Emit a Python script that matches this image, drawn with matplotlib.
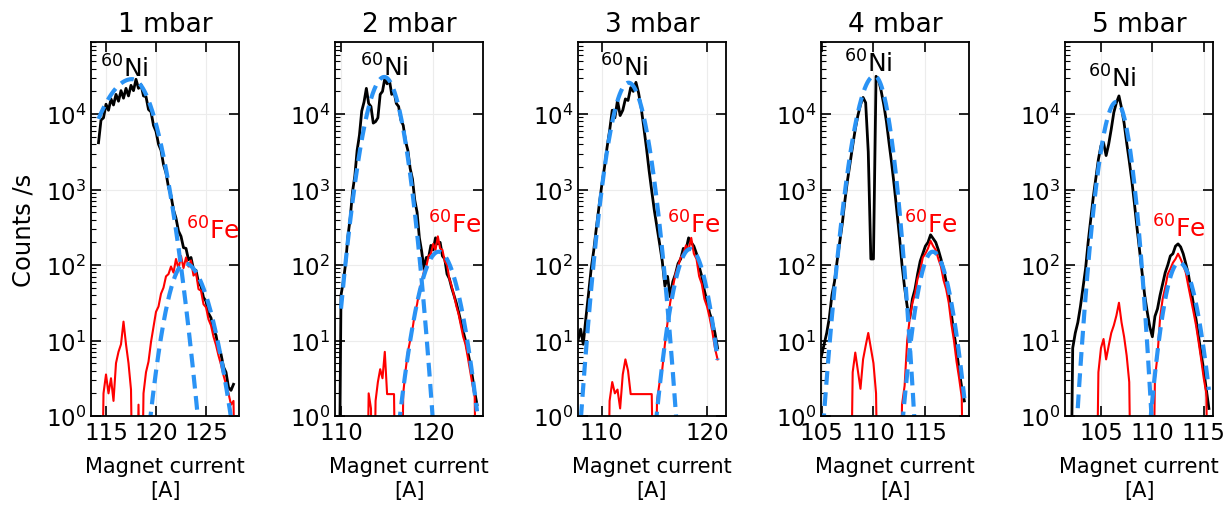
import numpy as np
import matplotlib.pyplot as plt

titles = ["1 mbar", "2 mbar", "3 mbar", "4 mbar", "5 mbar"]
bin_width = 0.25

# log10 of the count rate per 0.25 A bin, -2 marks an empty bin
total_start = [114.25, 109.75, 107.75, 105.0, 102.0]
total_1 = [3.62, 3.92, 3.95, 4.13, 4.05, 4.2, 4.12, 4.26, 4.17, 4.31, 4.21, 4.34, 4.24, 4.38,
           4.31, 4.46, 4.34, 4.39, 4.24, 4.23, 4.06, 4.03, 3.85, 3.77, 3.6, 3.52, 3.33, 3.22,
           3.03, 2.92, 2.73, 2.62, 2.45, 2.38, 2.23, 2.22, 2.07, 2.1, 1.94, 1.93, 1.77, 1.72,
           1.57, 1.52, 1.36, 1.3, 1.14, 1.07, 0.89, 0.82, 0.65, 0.58, 0.38, 0.34, 0.42]
total_2 = [-2, 1.6, 1.78, 2.02, 2.38, 2.62, 2.97, 3.18, 3.52, 3.72, 4.04, 4.16, 4.34, 4.14, 4.1,
           3.88, 3.9, 3.95, 4.26, 4.3, 4.47, 4.4, 4.45, 4.26, 4.3, 4.14, 4.1, 3.92, 3.85, 3.64,
           3.52, 3.28, 3.14, 2.86, 2.7, 2.36, 2.18, 1.95, 2.1, 2.1, 2.26, 2.2, 2.36, 2.28, 2.3,
           2.12, 2.08, 1.88, 1.82, 1.7, 1.6, 1.5, 1.38, 1.25, 1.12, 1.0, 0.85, 0.7, 0.52, 0.32, 0.15]
total_3 = [1.0, 1.15, 0.95, 1.3, 1.62, 1.95, 2.2, 2.5, 2.78, 3.05, 3.28, 3.55, 3.78, 4.05, 3.95,
           4.18, 3.98, 4.05, 4.2, 4.18, 4.35, 4.3, 4.42, 4.28, 4.08, 3.82, 3.55, 3.25, 2.98, 2.72,
           2.5, 2.28, 2.05, 1.72, 1.85, 1.58, 1.78, 1.88, 2.02, 2.08, 2.22, 2.2, 2.36, 2.3, 2.25,
           2.15, 1.98, 1.85, 1.66, 1.52, 1.36, 1.26, 1.1, 0.9]
total_4 = [0.8, 0.95, 1.1, 1.3, 1.6, 1.78, 2.05, 2.3, 2.55, 2.85, 3.12, 3.35, 3.58, 3.8, 3.98,
           4.12, 4.22, 4.15, 3.5, 2.08, 2.08, 4.5, 4.45, 4.3, 4.12, 3.9, 3.62, 3.35, 3.05, 2.72,
           2.38, 2.0, 1.7, 1.45, 1.3, 1.55, 1.68, 1.88, 2.05, 2.15, 2.25, 2.3, 2.4, 2.35, 2.3,
           2.2, 2.08, 1.95, 1.78, 1.6, 1.35, 1.1, 0.88, 0.6, 0.38, 0.2]
total_5 = [-2, 0.9, 1.1, 1.24, 1.45, 1.7, 1.95, 2.3, 2.6, 2.9, 3.15, 3.4, 3.58, 3.62, 3.45, 3.6,
           3.8, 4.02, 4.15, 4.24, 4.08, 3.88, 3.62, 3.38, 3.12, 2.82, 2.5, 2.2, 1.9, 1.6, 1.38,
           1.18, 1.05, 1.32, 1.42, 1.6, 1.75, 1.9, 2.0, 2.12, 2.15, 2.25, 2.28, 2.24, 2.15, 2.02,
           1.88, 1.68, 1.48, 1.28, 1.05, 0.82, 0.6, 0.35, 0.1]

fe_start = [114.5, 112.75, 110.5, 107.75, 104.5]
fe_1 = [-2, 0.3, 0.55, 0.3, 0.5, 0.2, 0.7, 0.85, 0.95, 1.25, 0.95, 0.7, 0.35, -2, -2, 0.15, -2,
        0.3, 0.58, 0.72, 0.98, 1.18, 1.38, 1.45, 1.62, 1.7, 1.85, 1.88, 1.98, 1.9, 2.08, 1.95,
        2.12, 1.96, 2.1, 1.98, 2.06, 1.86, 1.9, 1.68, 1.66, 1.48, 1.44, 1.28, 1.2, 1.05, 0.94,
        0.8, 0.68, 0.54, 0.42, 0.3, 0.15, 0.2, -2]
fe_2 = [-2, 0.3, 0.1, -2, 0.2, 0.45, 0.62, 0.5, 0.85, 0.29, 0.29, 0.29, 0.29, -2, -2, -2, 0.3,
        0.6, 0.85, 1.0, 1.15, 1.35, 1.48, 1.66, 1.78, 1.92, 1.98, 2.12, 2.15, 2.28, 2.2, 2.38,
        2.22, 2.2, 2.05, 2.0, 1.82, 1.72, 1.6, 1.46, 1.35, 1.2, 1.05, 0.95, 0.78, 0.6, 0.42,
        0.25, -2]
fe_3 = [-2, 0.2, 0.45, 0.3, 0.35, 0.1, 0.55, 0.75, 0.6, 0.29, 0.29, 0.29, 0.29, 0.29, 0.29,
        0.29, 0.29, 0.29, -2, 0.2, 0.45, 0.62, 0.95, 1.24, 1.5, 1.7, 1.88, 1.98, 2.1, 2.15, 2.26,
        2.2, 2.36, 2.15, 2.08, 1.85, 1.75, 1.55, 1.45, 1.3, 1.12, 0.9, 0.75]
fe_4 = [-2, 0.58, 0.84, 0.6, 0.36, 0.75, 0.93, 1.1, 0.9, 0.7, 0.3, -2, -2, -2, -2, -2, -2, -2,
        -2, -2, 0.15, 0.4, 1.0, 1.3, 1.5, 1.62, 1.82, 1.92, 2.1, 2.15, 2.22, 2.32, 2.25, 2.2,
        2.08, 1.98, 1.8, 1.68, 1.5, 1.22, 1.0, 0.72, 0.5, 0.25, -2]
fe_5 = [-2, 0.58, 0.9, 1.02, 0.75, 0.93, 1.1, 1.2, 1.33, 1.5, 1.24, 1.05, 0.8, 0.45, -2, -2,
        -2, -2, -2, -2, -2, -2, -2, 0.5, 0.8, 1.3, 1.55, 1.7, 1.88, 1.95, 2.03, 2.08, 2.15,
        2.08, 2.0, 1.9, 1.72, 1.55, 1.38, 1.2, 0.98, 0.75, 0.5, 0.3, -2]

totals = [total_1, total_2, total_3, total_4, total_5]
fes = [fe_1, fe_2, fe_3, fe_4, fe_5]

# fitted peaks: amplitude, centre, sigma low side, sigma high side
ni_fit = [(2.9e4, 117.6, 2.15, 1.45), (3.1e4, 114.7, 1.25, 1.15), (2.6e4, 112.55, 1.0, 1.0),
          (3.2e4, 110.1, 1.07, 0.84), (1.45e4, 106.5, 0.87, 0.78)]
fe_fit = [(105, 122.9, 1.13, 1.5), (150, 120.6, 1.33, 1.33), (163, 118.4, 1.0, 1.0),
          (150, 115.7, 0.9, 1.02), (108, 112.6, 0.9, 1.04)]

xlims = [(113.5, 128.3), (109.35, 125.4), (107.75, 121.8), (104.95, 119.2), (101.5, 115.9)]
xticks = [[115, 120, 125], [110, 120], [110, 120], [105, 110, 115], [105, 110, 115]]

ni_pos = [(0.225, 0.908), (0.33, 0.91), (0.31, 0.91), (0.32, 0.92), (0.32, 0.88)]
fe_pos = [(0.82, 0.473), (0.81, 0.49), (0.785, 0.49), (0.745, 0.49), (0.77, 0.48)]
lefts = [91, 335, 578, 821, 1065]

blue = '#2a93f5'


def peak(x, amp, mu, s_lo, s_hi):
    s = np.where(x < mu, s_lo, s_hi)
    return amp * np.exp(-0.5 * ((x - mu) / s) ** 2)


W, H = 1227, 510
fig = plt.figure(figsize=(W / 100, H / 100), dpi=100)

for i in range(5):
    ax = fig.add_axes([lefts[i] / W, 93 / H, 148 / W, 374 / H])

    tot = np.array(totals[i])
    x_tot = total_start[i] + bin_width * np.arange(len(tot))
    fe = np.array(fes[i])
    x_fe = fe_start[i] + bin_width * np.arange(len(fe))

    ax.plot(x_tot, 10.0 ** tot, color='black', lw=2.0)
    ax.plot(x_fe, 10.0 ** fe, color='red', lw=1.5)

    good = x_tot[tot > -1]
    xx = np.linspace(good[0], good[-1], 400)
    ax.plot(xx, peak(xx, *ni_fit[i]), color=blue, lw=3, ls=(0, (3.3, 1.8)))
    ax.plot(xx, peak(xx, *fe_fit[i]), color=blue, lw=3, ls=(0, (3.3, 1.8)))

    ax.set_yscale('log')
    ax.set_ylim(1, 9e4)
    ax.set_xlim(*xlims[i])
    ax.set_xticks(xticks[i])
    ax.grid(True, which='major', color='#ececec', lw=0.8)
    ax.set_axisbelow(True)
    ax.tick_params(which='major', direction='in', length=7, width=1.2, labelsize=16.5,
                   top=True, right=True)
    ax.tick_params(which='minor', direction='in', length=3.5, width=0.8, right=False)
    for sp in ax.spines.values():
        sp.set_linewidth(1.3)

    ax.set_title(titles[i], fontsize=19, pad=8)
    ax.set_xlabel('Magnet current\n[A]', fontsize=15, labelpad=9, linespacing=1.25)
    if i == 0:
        ax.set_ylabel('Counts /s', fontsize=17.5, labelpad=7)

    ax.text(*ni_pos[i], r'$^{60}$Ni', transform=ax.transAxes, ha='center',
            va='baseline', fontsize=18, color='black')
    ax.text(*fe_pos[i], r'$^{60}$Fe', transform=ax.transAxes, ha='center',
            va='baseline', fontsize=18, color='red')

fig.savefig('out.png', dpi=100)
